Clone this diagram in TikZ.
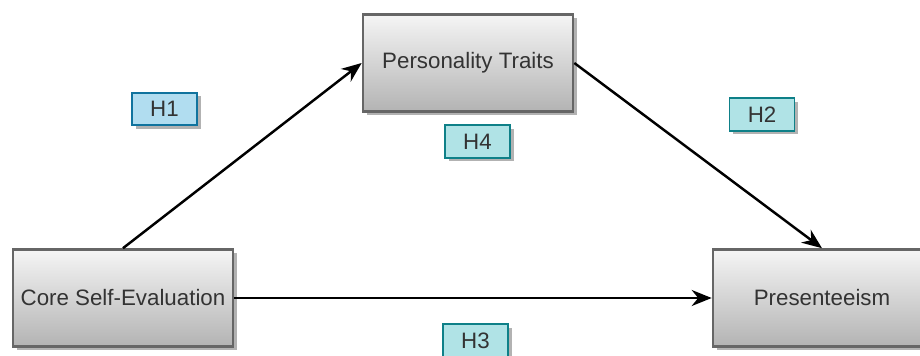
\documentclass[tikz,border=0pt]{standalone}
\usepackage{fontspec}
\setmainfont{Liberation Sans}
\usepackage{xcolor}
\usetikzlibrary{arrows.meta,shadows}

\definecolor{boxline}{HTML}{666666}
\definecolor{boxtop}{HTML}{F5F5F5}
\definecolor{boxbot}{HTML}{B3B3B3}
\definecolor{txtgray}{HTML}{333333}
\definecolor{hblue}{HTML}{B1DDF0}
\definecolor{hblueline}{HTML}{10739E}
\definecolor{hteal}{HTML}{B0E3E6}
\definecolor{htealline}{HTML}{0E8088}

\tikzset{
  varbox/.style={draw=boxline, line width=1.5pt, top color=boxtop, bottom color=boxbot,
    minimum height=1.94cm, text=txtgray, font=\fontsize{12.7}{15}\selectfont,
    drop shadow={shadow xshift=0.07cm, shadow yshift=-0.07cm, fill=black, opacity=0.3}},
  hyp/.style={draw=htealline, line width=0.9pt, fill=hteal, minimum width=1.3cm,
    minimum height=0.65cm, text=txtgray, font=\fontsize{12.7}{15}\selectfont,
    drop shadow={shadow xshift=0.07cm, shadow yshift=-0.07cm, fill=black, opacity=0.3}},
  link/.style={line width=1.4pt, -{Stealth[length=0.4cm, width=0.32cm]}}
}

\begin{document}
\begin{tikzpicture}
\useasboundingbox (0,0) rectangle (18.4,7.1);
\clip (0,0) rectangle (18.4,7.1);

% variables:
\node[varbox, minimum width=4.2cm] (pt) at (9.36,5.84) {Personality Traits};
\node[varbox, minimum width=4.4cm] (cse) at (2.46,1.14) {Core Self-Evaluation};
\node[varbox, minimum width=4.36cm] (pres) at (16.44,1.14) {Presenteeism};

% paths:
\draw[link] (cse.north) -- (pt.west);
\draw[link] (pt.east) -- (pres.north);
\draw[link] (cse) -- (pres);

% hypotheses:
\node[hyp, draw=hblueline, fill=hblue] (h1) at (3.29,4.92) {H1};
\node[hyp] (h2) at (15.24,4.81) {H2};
\node[hyp] (h4) at (9.55,4.27) {H4};
\node[hyp] (h3) at (9.51,0.29) {H3};

\end{tikzpicture}
\end{document}
